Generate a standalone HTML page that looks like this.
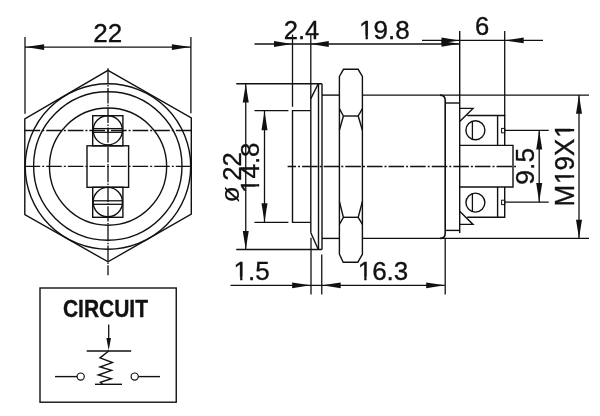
<!DOCTYPE html>
<html><head><meta charset="utf-8"><title>Dimension drawing</title>
<style>
html,body{margin:0;padding:0;background:#fff;}
body{width:600px;height:416px;overflow:hidden;font-family:"Liberation Sans",sans-serif;}
svg{display:block;filter:grayscale(1);}
svg text{font-family:"Liberation Sans",sans-serif;}
</style></head><body>
<svg width="600" height="416" viewBox="0 0 600 416" stroke="#111" stroke-linecap="butt" stroke-linejoin="miter" fill="none">
<rect x="0" y="0" width="600" height="416" fill="#fff" stroke="none"/>
<g transform="translate(93.3,41.9)"><text x="0.00 14.46" y="0" font-size="26" font-weight="normal" fill="#111" stroke="#111" stroke-width="0.35">22</text></g>
<g transform="translate(62.9,316.5) scale(0.905,1.0)"><text x="0.00 16.75 23.20 39.95 56.71 73.46 79.91" y="0" font-size="23.2" font-weight="bold" fill="#111" stroke="#111" stroke-width="0.35">CIRCUIT</text></g>
<g transform="translate(283.7,39.0)"><text x="0.00 14.24 21.35" y="0" font-size="25.6" font-weight="normal" fill="#111" stroke="#111" stroke-width="0.35">2.4</text></g>
<g transform="translate(359.0,39.0)"><text x="0.00 14.46 28.92 36.14" y="0" font-size="26" font-weight="normal" fill="#111" stroke="#111" stroke-width="0.35">19.8</text><rect x="0.51" y="-3.30" width="6.03" height="5.33" fill="#fff" stroke="none"/><rect x="8.84" y="-3.30" width="5.89" height="5.33" fill="#fff" stroke="none"/></g>
<g transform="translate(475.1,35)"><text x="0.00" y="0" font-size="25.6" font-weight="normal" fill="#111" stroke="#111" stroke-width="0.35">6</text></g>
<g transform="translate(239.3,202.4) rotate(-90)"><text x="0.00" y="0" font-size="26.5" font-weight="normal" fill="#111" stroke="#111" stroke-width="0.1">ø</text></g>
<g transform="translate(240.85,180.8) rotate(-90)"><text x="0.00 14.24" y="0" font-size="25.6" font-weight="normal" fill="#111" stroke="#111" stroke-width="0.35">22</text></g>
<g transform="translate(258.7,193.0) rotate(-90)"><text x="0.00 14.46 28.92 36.14" y="0" font-size="26" font-weight="normal" fill="#111" stroke="#111" stroke-width="0.35">14.8</text><rect x="0.51" y="-3.30" width="6.03" height="5.33" fill="#fff" stroke="none"/><rect x="8.84" y="-3.30" width="5.89" height="5.33" fill="#fff" stroke="none"/></g>
<g transform="translate(233.6,280)"><text x="0.00 14.46 21.68" y="0" font-size="26" font-weight="normal" fill="#111" stroke="#111" stroke-width="0.35">1.5</text><rect x="0.51" y="-3.30" width="6.03" height="5.33" fill="#fff" stroke="none"/><rect x="8.84" y="-3.30" width="5.89" height="5.33" fill="#fff" stroke="none"/></g>
<g transform="translate(357.7,280)"><text x="0.00 14.46 28.92 36.14" y="0" font-size="26" font-weight="normal" fill="#111" stroke="#111" stroke-width="0.35">16.3</text><rect x="0.51" y="-3.30" width="6.03" height="5.33" fill="#fff" stroke="none"/><rect x="8.84" y="-3.30" width="5.89" height="5.33" fill="#fff" stroke="none"/></g>
<g transform="translate(534.1,184.7) rotate(-90)"><text x="0.00 14.74 22.10" y="0" font-size="26.5" font-weight="normal" fill="#111" stroke="#111" stroke-width="0.35">9.5</text></g>
<g transform="translate(574.0,206.6) rotate(-90) scale(1.0,1.045)"><text x="0.00 22.52 36.12 50.58 68.78" y="0" font-size="26" font-weight="normal" fill="#111" stroke="#111" stroke-width="0.35">M19X1</text><rect x="23.03" y="-3.30" width="6.03" height="5.33" fill="#fff" stroke="none"/><rect x="31.36" y="-3.30" width="5.89" height="5.33" fill="#fff" stroke="none"/><rect x="69.29" y="-3.30" width="6.03" height="5.33" fill="#fff" stroke="none"/><rect x="77.62" y="-3.30" width="5.89" height="5.33" fill="#fff" stroke="none"/></g>
<line x1="25" y1="37" x2="25" y2="113.7" stroke-width="1.3" />
<line x1="190.9" y1="37" x2="190.9" y2="113.2" stroke-width="1.3" />
<line x1="25" y1="47.1" x2="191" y2="47.1" stroke-width="1.3" />
<polygon points="25.6,47.1 44.10,44.20 44.10,50.00" fill="#111" stroke="none"/>
<polygon points="190.4,47.1 171.90,50.00 171.90,44.20" fill="#111" stroke="none"/>
<polygon points="108,70.3 191.3,117.8 191.3,214 108,261.8 24.8,214.7 24.8,118.8" stroke-width="1.4" fill="none" />
<circle cx="107.95" cy="166.5" r="82.75" stroke-width="1.4" fill="none" />
<circle cx="107.8" cy="166.0" r="74.2" stroke-width="1.4" fill="none" />
<circle cx="108.05" cy="166.6" r="58.6" stroke-width="1.4" fill="none" />
<line x1="108" y1="68.3" x2="108" y2="275.2" stroke-width="1.3" stroke-dasharray="15.4 1.4 1.5 1.4"/>
<line x1="24.6" y1="130.5" x2="191.2" y2="130.5" stroke-width="1.3" stroke-dasharray="15.6 2 2 2"/>
<line x1="24.6" y1="166.4" x2="191.2" y2="166.4" stroke-width="1.3" stroke-dasharray="15.6 2 2 2"/>
<rect x="92.7" y="115.7" width="30.2" height="30.1" fill="none" stroke-width="1.4"/>
<circle cx="107.8" cy="130.3" r="14.6" stroke-width="1.4" fill="none" />
<line x1="93.3" y1="128.6" x2="122.3" y2="128.6" stroke-width="1.3" />
<line x1="93.3" y1="132.3" x2="122.3" y2="132.3" stroke-width="1.3" />
<rect x="87.0" y="145.8" width="41.6" height="41.5" fill="none" stroke-width="1.4"/>
<rect x="92.7" y="187.3" width="30.2" height="30.0" fill="none" stroke-width="1.4"/>
<circle cx="107.8" cy="202.1" r="14.7" stroke-width="1.4" fill="none" />
<line x1="93.2" y1="200.8" x2="122.4" y2="200.8" stroke-width="1.3" />
<line x1="93.2" y1="204.3" x2="122.4" y2="204.3" stroke-width="1.3" />
<rect x="40" y="288" width="136.25" height="114.2" fill="none" stroke-width="1.4"/>
<line x1="108.7" y1="324.5" x2="108.7" y2="340" stroke-width="1.3" />
<polygon points="108.7,350.5 106.40,338.00 111.00,338.00" fill="#111" stroke="none"/>
<line x1="86.7" y1="351" x2="131.2" y2="351" stroke-width="1.4" />
<polyline points="108.7,351 100,357.9 112.4,362.6 100,367 111.6,370.3 98.3,375 111.3,378.7 100.4,382.3 102.7,384.3" stroke-width="1.4" fill="none" />
<line x1="95" y1="384.3" x2="122" y2="384.3" stroke-width="1.4" />
<circle cx="80.7" cy="376.6" r="3.6" stroke-width="1.2" fill="none" />
<circle cx="134.7" cy="376.6" r="3.6" stroke-width="1.2" fill="none" />
<line x1="55" y1="376.6" x2="77" y2="376.6" stroke-width="1.4" />
<line x1="138.5" y1="376.6" x2="160" y2="376.6" stroke-width="1.4" />
<line x1="292.5" y1="34.5" x2="292.5" y2="106.8" stroke-width="1.3" />
<line x1="310.8" y1="35" x2="310.8" y2="97" stroke-width="1.3" />
<line x1="254.5" y1="44" x2="459.5" y2="44" stroke-width="1.3" />
<polygon points="292,44 274.00,46.90 274.00,41.10" fill="#111" stroke="none"/>
<polygon points="310.75,44 328.75,41.10 328.75,46.90" fill="#111" stroke="none"/>
<polygon points="459.5,43.8 441.50,46.70 441.50,40.90" fill="#111" stroke="none"/>
<line x1="459.7" y1="31" x2="459.7" y2="233" stroke-width="1.4000000000000001" />
<line x1="504.7" y1="31" x2="504.7" y2="116" stroke-width="1.3" />
<line x1="422" y1="40.4" x2="543" y2="40.4" stroke-width="1.3" />
<polygon points="459.5,40.4 441.50,43.30 441.50,37.50" fill="#111" stroke="none"/>
<polygon points="504.7,40.4 523.70,37.50 523.70,43.30" fill="#111" stroke="none"/>
<line x1="236.25" y1="83.75" x2="322" y2="83.75" stroke-width="1.4000000000000001" />
<line x1="236.25" y1="249.5" x2="322" y2="249.5" stroke-width="1.4000000000000001" />
<line x1="318.5" y1="83.75" x2="318.5" y2="249.5" stroke-width="1.4" />
<line x1="322" y1="83.75" x2="322" y2="249.5" stroke-width="1.4" />
<line x1="318.3" y1="83.75" x2="310.8" y2="98.6" stroke-width="1.4" />
<line x1="310.8" y1="232.7" x2="318.3" y2="249.5" stroke-width="1.4" />
<line x1="310.8" y1="97" x2="310.8" y2="232.7" stroke-width="1.4" />
<polyline points="310.8,110.6 292.5,110.6 292.5,222.4 310.8,222.4" stroke-width="1.4" fill="none" />
<line x1="254.5" y1="110.6" x2="288.4" y2="110.6" stroke-width="1.3" />
<line x1="254.5" y1="222.4" x2="288.4" y2="222.4" stroke-width="1.3" />
<line x1="245.75" y1="84" x2="245.75" y2="249.5" stroke-width="1.3" />
<polygon points="245.75,83.9 248.75,102.40 242.75,102.40" fill="#111" stroke="none"/>
<polygon points="245.75,249.4 242.75,230.90 248.75,230.90" fill="#111" stroke="none"/>
<line x1="264.5" y1="111" x2="264.5" y2="222" stroke-width="1.3" />
<polygon points="264.5,110.7 267.50,130.20 261.50,130.20" fill="#111" stroke="none"/>
<polygon points="264.5,222.3 261.50,203.30 267.50,203.30" fill="#111" stroke="none"/>
<line x1="311" y1="237.8" x2="311" y2="294.5" stroke-width="1.3" />
<line x1="321.75" y1="254.5" x2="321.75" y2="294.5" stroke-width="1.3" />
<line x1="230.5" y1="285.3" x2="444.7" y2="285.3" stroke-width="1.3" />
<polygon points="310.6,285.3 292.10,288.20 292.10,282.40" fill="#111" stroke="none"/>
<polygon points="322.2,285.3 340.70,282.40 340.70,288.20" fill="#111" stroke="none"/>
<polygon points="444.7,285.3 426.20,288.20 426.20,282.40" fill="#111" stroke="none"/>
<line x1="322" y1="95.1" x2="339.4" y2="95.1" stroke-width="1.4" />
<line x1="362.4" y1="95.1" x2="589" y2="95.1" stroke-width="1.4" />
<line x1="322" y1="238.4" x2="339.4" y2="238.4" stroke-width="1.4" />
<line x1="362.4" y1="238.4" x2="589" y2="238.4" stroke-width="1.4" />
<polygon points="339.4,76.5 343.5,69.3 358.1,69.3 362.4,76.5 362.4,254.2 357.8,262.3 343.2,262.3 339.4,254.2" stroke-width="1.4" fill="none" />
<polyline points="339.4,108.6 343.4,116 339.4,130.3" stroke-width="1.4" fill="none" />
<polyline points="362.4,108.6 358.2,116 362.4,130.3" stroke-width="1.4" fill="none" />
<line x1="343.4" y1="116" x2="358.2" y2="116" stroke-width="1.4" />
<polyline points="339.4,201.5 343.4,217.3 339.4,224.3" stroke-width="1.4" fill="none" />
<polyline points="362.4,201.5 358.2,217.3 362.4,224.3" stroke-width="1.4" fill="none" />
<line x1="343.4" y1="217.3" x2="358.2" y2="217.3" stroke-width="1.4" />
<path d="M440,95.1 Q445.2,95.1 445.2,100.3 L445.2,233.2 Q445.2,238.4 440,238.4" fill="none" stroke-width="1.5999999999999999"/>
<line x1="445.2" y1="238.4" x2="445.2" y2="294.5" stroke-width="1.3" />
<line x1="445.2" y1="103" x2="459.7" y2="103" stroke-width="1.4" />
<line x1="445.2" y1="230.4" x2="459.7" y2="230.4" stroke-width="1.4" />
<polyline points="459.7,108.4 473,108.4 459.7,121.6" stroke-width="1.4" fill="none" />
<polyline points="459.7,211.2 473,224.4 459.7,224.4" stroke-width="1.4" fill="none" />
<polyline points="467.2,115.5 504.7,115.5 504.7,145.4" stroke-width="1.4" fill="none" />
<line x1="497.6" y1="115.5" x2="497.6" y2="145.4" stroke-width="1.4" />
<polyline points="459.7,145.4 513,145.4 513,187 459.7,187" stroke-width="1.4" fill="none" />
<polyline points="504.7,187 504.7,217.2 467.2,217.2" stroke-width="1.4" fill="none" />
<line x1="497.6" y1="187" x2="497.6" y2="217.2" stroke-width="1.4" />
<circle cx="475.4" cy="130.2" r="9.5" stroke-width="1.4" fill="none" />
<line x1="472.4" y1="121.2" x2="472.4" y2="139.2" stroke-width="1.3" />
<circle cx="475.4" cy="202.6" r="9.5" stroke-width="1.4" fill="none" />
<line x1="472.4" y1="193.6" x2="472.4" y2="211.6" stroke-width="1.3" />
<rect x="501.6" y="128.4" width="3.1" height="4.4" fill="none" stroke-width="1"/>
<rect x="501.6" y="200.2" width="3.1" height="4.4" fill="none" stroke-width="1"/>
<line x1="504.7" y1="130.4" x2="548.7" y2="130.4" stroke-width="1.3" />
<line x1="504.7" y1="202.2" x2="548.7" y2="202.2" stroke-width="1.3" />
<line x1="539.2" y1="130.4" x2="539.2" y2="202.2" stroke-width="1.3" />
<polygon points="539.2,130.5 542.20,149.50 536.20,149.50" fill="#111" stroke="none"/>
<polygon points="539.2,202.1 536.20,183.10 542.20,183.10" fill="#111" stroke="none"/>
<line x1="579.0" y1="95.1" x2="579.0" y2="238.4" stroke-width="1.3" />
<polygon points="579.0,95.2 582.00,113.70 576.00,113.70" fill="#111" stroke="none"/>
<polygon points="579.0,238.3 576.00,219.80 582.00,219.80" fill="#111" stroke="none"/>
<line x1="287.6" y1="166.5" x2="516" y2="166.5" stroke-width="1.3" stroke-dasharray="15.6 2 2 2" stroke-dashoffset="7.1"/>
</svg>
</body></html>
